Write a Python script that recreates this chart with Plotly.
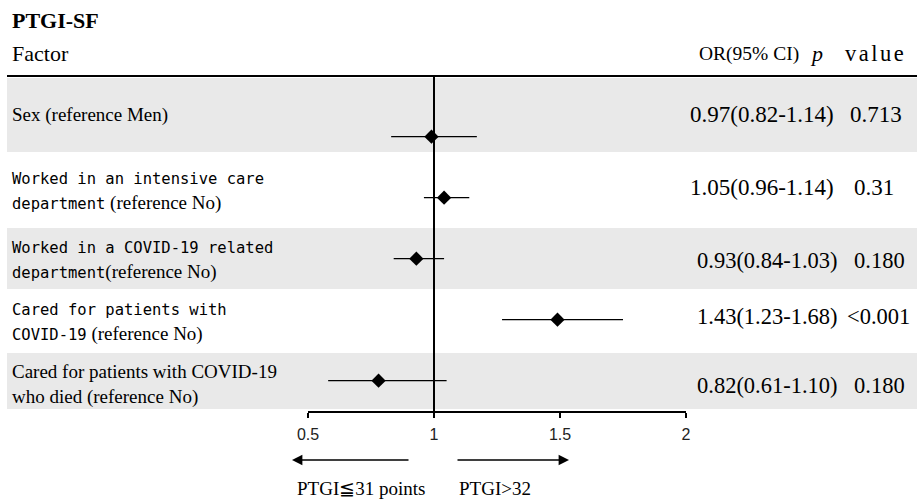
import plotly.graph_objects as go

# ---------------- data ----------------
factor_labels = [
    "Sex (reference Men)",
    "Worked in an intensive care|department| (reference No)",
    "Worked in a COVID-19 related|department|(reference No)",
    "Cared for patients with|COVID-19| (reference No)",
    "Cared for patients with COVID-19|who died (reference No)",
]
or_drawn = [0.99, 1.04, 0.93, 1.49, 0.78]      # diamond positions as drawn
ci_low_drawn = [0.83, 0.96, 0.84, 1.27, 0.58]
ci_high_drawn = [1.17, 1.14, 1.04, 1.75, 1.05]
or_text = ["0.97(0.82-1.14)", "1.05(0.96-1.14)", "0.93(0.84-1.03)",
           "1.43(1.23-1.68)", "0.82(0.61-1.10)"]
p_text = ["0.713", "0.31", "0.180", "&lt;0.001", "0.180"]
tick_vals = [0.5, 1, 1.5, 2]
tick_labels = ["0.5", "1", "1.5", "2"]

# ---------------- layout helpers ----------------
W, H = 917, 500
def X(px):
    return px / W
def Y(px):
    return 1 - px / H

SERIF = "Liberation Serif"
MONO = "DejaVu Sans Mono"

def mono(s):
    return f"<span style=\"font-family:'{MONO}';font-size:15.5px\">{s}</span>"

def fmt_label(s):
    if "|" not in s or s.startswith("Cared for patients with COVID-19"):
        return s.replace("|", "<br>")
    parts = s.split("|")
    return mono(parts[0]) + "<br>" + mono(parts[1]) + parts[2]

label_y = [115, 192, 261, 323, 384]
or_y = [115, 187, 260, 316, 385]
or_x = [762, 762, 767, 767, 767]
or_size = [23, 23, 22.5, 22.5, 22.5]
p_x = [876, 874, 879, 878, 879]
gray_bands = [(78, 152), (228, 289), (353, 409)]

fig = go.Figure()
rows = list(range(len(or_drawn)))
fig.add_trace(go.Scatter(
    x=or_drawn, y=rows, mode="markers",
    marker=dict(symbol="diamond", size=11, color="black"),
    error_x=dict(type="data", symmetric=False,
                 array=[h - o for h, o in zip(ci_high_drawn, or_drawn)],
                 arrayminus=[o - l for o, l in zip(or_drawn, ci_low_drawn)],
                 color="black", thickness=1.3, width=0),
    showlegend=False, hoverinfo="skip",
))

shapes = []
for y0, y1 in gray_bands:
    shapes.append(dict(type="rect", xref="paper", yref="paper",
                       x0=X(7), x1=1, y0=Y(y1), y1=Y(y0),
                       fillcolor="#e9e9e9", line=dict(width=0), layer="below"))
shapes.append(dict(type="line", xref="paper", yref="paper",
                   x0=X(7), x1=1, y0=Y(76), y1=Y(76),
                   line=dict(color="black", width=2)))
shapes.append(dict(type="line", xref="x", yref="paper",
                   x0=1, x1=1, y0=Y(416), y1=Y(76),
                   line=dict(color="black", width=2)))

def txt(text, x, y, size, anchor="left", align="left"):
    return dict(text=text, x=X(x), y=Y(y), xref="paper", yref="paper",
                xanchor=anchor, yanchor="middle", align=align, showarrow=False,
                font=dict(family=SERIF, size=size, color="black"))

ann = [
    txt("<b>PTGI-SF</b>", 10, 20, 22),
    txt("Factor", 10, 54, 22),
    txt("OR(95% CI)", 801, 54, 19.5, anchor="right"),
    txt("<i>p</i>", 816, 54, 22, anchor="center"),
    txt("<span style=\"letter-spacing:2.5px\">value</span>", 908, 54, 22.5, anchor="right"),
]
for lab, ly in zip(factor_labels, label_y):
    ann.append(txt(fmt_label(lab), 10, ly, 19))
for t, p, oy, ox, osz, px in zip(or_text, p_text, or_y, or_x, or_size, p_x):
    ann.append(txt(t, ox, oy, osz, anchor="center"))
    ann.append(txt(p, px, oy, osz, anchor="center"))

ann.append(dict(text="", x=X(292), y=Y(460), xref="paper", yref="paper",
                ax=118, ay=0, showarrow=True, arrowhead=2, arrowsize=1.6,
                arrowwidth=1.3, arrowcolor="black"))
ann.append(dict(text="", x=X(569), y=Y(460), xref="paper", yref="paper",
                ax=-113, ay=0, showarrow=True, arrowhead=2, arrowsize=1.6,
                arrowwidth=1.3, arrowcolor="black"))
ann.append(txt("PTGI≦31 points", 361, 488, 19, anchor="center"))
ann.append(txt("PTGI&gt;32", 495, 488, 19, anchor="center"))

fig.update_layout(
    width=W, height=H, autosize=False,
    margin=dict(l=0, r=0, t=0, b=0, pad=0, autoexpand=False),
    paper_bgcolor="white", plot_bgcolor="rgba(0,0,0,0)",
    shapes=shapes, annotations=ann,
    xaxis=dict(domain=[X(308), X(686)], range=[0.5, 2], showgrid=False,
               zeroline=False, showline=True, linecolor="black", linewidth=2,
               ticks="outside", ticklen=5, tickwidth=2, tickcolor="black",
               tickvals=tick_vals, ticktext=tick_labels, ticklabelstandoff=3,
               tickfont=dict(family="Liberation Sans", size=16, color="#222"),
               automargin=False, fixedrange=True),
    yaxis=dict(domain=[Y(411), Y(76)], range=[4.497, -0.995], visible=False,
               automargin=False, fixedrange=True),
)

fig.write_html("out.html", config={"displayModeBar": False},
               post_script="document.body.style.margin='0';document.body.style.overflow='hidden';")
